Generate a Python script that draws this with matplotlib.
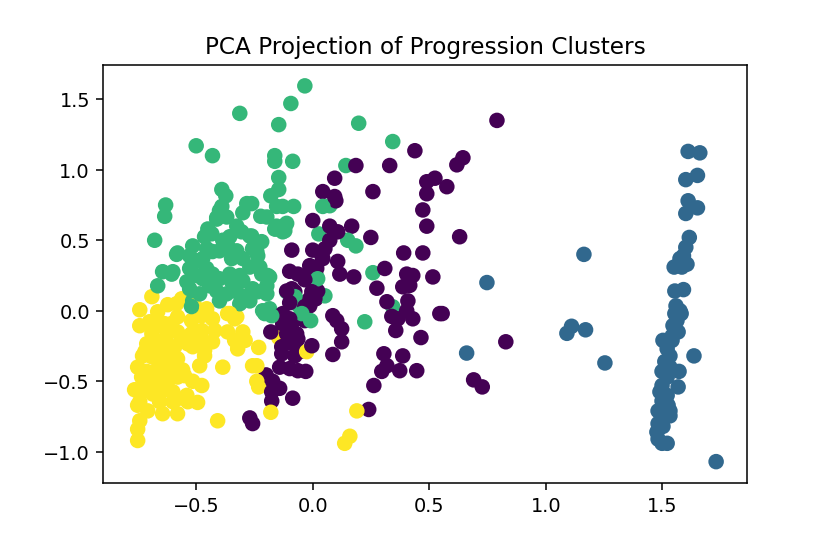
import numpy as np
import matplotlib
matplotlib.use("Agg")
import matplotlib.pyplot as plt

# Cluster 0 (purple)
cluster0 = [
    (0.63, 0.525), (0.555, -0.02), (0.828, -0.22), (0.69, -0.49), (0.727, -0.54),
    (0.79, 1.35), (0.438, 1.135), (0.33, 1.03), (0.185, 1.03), (0.644, 1.085), (0.618, 1.035),
    (0.094, 0.94), (0.524, 0.94), (0.489, 0.915), (0.575, 0.88), (0.043, 0.845), (0.258, 0.845),
    (0.094, 0.81), (0.099, 0.78), (0.489, 0.83), (0.472, 0.715), (0.489, 0.60), (0.0, 0.64),
    (0.073, 0.60), (0.107, 0.56), (0.167, 0.60), (0.073, 0.50), (0.249, 0.52),
    (-0.09, 0.43), (0.0, 0.43), (0.052, 0.44), (0.039, 0.39), (0.107, 0.35), (-0.013, 0.32),
    (0.39, 0.41), (0.472, 0.41), (0.309, 0.30), (-0.099, 0.28), (-0.064, 0.26), (0.116, 0.26),
    (0.176, 0.24), (0.403, 0.26), (0.429, 0.25), (0.515, 0.24),
    (-0.034, 0.22), (-0.009, 0.31), (0.017, 0.30), (0.043, 0.37), (0.275, 0.16), (0.386, 0.17),
    (0.416, 0.18), (-0.09, 0.156), (-0.004, 0.135), (0.021, 0.14), (-0.013, 0.085), (0.013, 0.085),
    (-0.099, 0.057), (-0.034, 0.03), (-0.013, 0.035), (0.318, 0.064), (0.408, 0.07), (0.403, 0.0),
    (0.545, -0.02), (-0.129, -0.02), (-0.099, -0.057), (-0.129, -0.092), (-0.09, -0.092),
    (-0.034, -0.07), (0.086, -0.035), (0.103, -0.07), (0.124, -0.128), (0.339, -0.04),
    (0.365, -0.057), (0.356, -0.14), (0.429, -0.057), (-0.18, -0.15), (-0.112, -0.163),
    (-0.069, -0.163), (-0.099, -0.2), (-0.064, -0.2), (0.464, -0.19), (0.124, -0.22),
    (-0.133, -0.255), (-0.086, -0.234), (-0.004, -0.248), (-0.133, -0.305), (-0.077, -0.32),
    (-0.056, -0.29), (0.086, -0.31), (0.305, -0.305), (0.386, -0.32), (-0.142, -0.40),
    (-0.099, -0.41), (-0.064, -0.425), (-0.03, -0.43), (0.318, -0.39), (0.296, -0.43),
    (0.373, -0.425), (0.446, -0.425), (-0.20, -0.455), (-0.172, -0.50), (-0.142, -0.55),
    (-0.176, -0.575), (-0.176, -0.64), (-0.086, -0.62), (0.262, -0.53), (0.24, -0.70),
    (-0.27, -0.76), (-0.258, -0.80),
    (-0.112, 0.14), (-0.077, 0.135), (-0.021, 0.035), (0.009, 0.085), (-0.142, -0.035),
    (-0.112, -0.057), (-0.043, -0.057), (0.0, 0.31),
]

# Cluster 1 (blue)
cluster1 = [
    (1.163, 0.40), (0.747, 0.20), (1.11, -0.11), (1.09, -0.16), (1.17, -0.135), (1.253, -0.37),
    (0.66, -0.30), (1.73, -1.07),
    (1.61, 1.13), (1.66, 1.12), (1.65, 0.96), (1.60, 0.93), (1.61, 0.78), (1.65, 0.73),
    (1.60, 0.69), (1.615, 0.52), (1.60, 0.45), (1.59, 0.39), (1.575, 0.37), (1.605, 0.33),
    (1.55, 0.31), (1.583, 0.31), (1.553, 0.14), (1.59, 0.15), (1.558, 0.035), (1.575, 0.0),
    (1.553, -0.02), (1.58, -0.02), (1.562, -0.07), (1.545, -0.105), (1.567, -0.15),
    (1.541, -0.18), (1.502, -0.21), (1.541, -0.21), (1.52, -0.27), (1.532, -0.32),
    (1.635, -0.32), (1.51, -0.36), (1.532, -0.40), (1.498, -0.43), (1.571, -0.43),
    (1.52, -0.47), (1.498, -0.53), (1.567, -0.54), (1.489, -0.575), (1.52, -0.60),
    (1.498, -0.64), (1.524, -0.67), (1.532, -0.71), (1.481, -0.71), (1.532, -0.745),
    (1.498, -0.77), (1.481, -0.80), (1.502, -0.82), (1.476, -0.86), (1.481, -0.91),
    (1.498, -0.94), (1.52, -0.94),
]

# Cluster 2 (green)
cluster2 = [
    (-0.034, 1.595), (-0.094, 1.47), (-0.313, 1.40), (-0.146, 1.32), (-0.50, 1.17), (-0.43, 1.10),
    (-0.163, 1.10), (-0.163, 1.06), (-0.086, 1.06), (-0.146, 0.945), (-0.146, 0.86), (-0.18, 0.815),
    (-0.39, 0.86), (-0.373, 0.815), (-0.39, 0.74), (-0.631, 0.75), (-0.635, 0.67), (-0.283, 0.76),
    (-0.30, 0.695), (-0.262, 0.76), (-0.155, 0.74), (-0.129, 0.74), (-0.082, 0.74), (-0.223, 0.67),
    (-0.197, 0.665), (-0.412, 0.66), (-0.369, 0.665), (-0.112, 0.62), (-0.155, 0.60), (-0.326, 0.60),
    (-0.45, 0.58),
    (0.197, 1.33), (0.343, 1.20), (0.142, 1.03), (-0.159, 0.58), (-0.116, 0.61), (-0.129, 0.56),
    (0.043, 0.74), (0.073, 0.745), (0.026, 0.545), (0.15, 0.50), (0.185, 0.46), (0.258, 0.27),
    (-0.27, 0.53), (-0.24, 0.42), (-0.219, 0.26), (-0.193, 0.25), (0.017, 0.24),
    (0.021, 0.227), (0.052, 0.106), (-0.112, 0.135), (-0.06, 0.035), (-0.047, -0.02),
    (-0.009, -0.07), (0.223, -0.078), (0.343, 0.028), (-0.283, 0.106), (-0.236, 0.135),
    (-0.197, 0.12), (-0.206, -0.02), (-0.176, -0.035),
    (-0.40, 0.71), (-0.412, 0.65), (-0.163, 0.58), (-0.12, 0.567), (-0.305, 0.56), (-0.262, 0.53),
    (-0.219, 0.49), (-0.356, 0.525), (-0.386, 0.50), (-0.433, 0.546), (-0.464, 0.525),
    (-0.584, 0.40), (-0.515, 0.46), (-0.528, 0.39), (-0.498, 0.355), (-0.455, 0.44), (-0.43, 0.42),
    (-0.40, 0.425), (-0.472, 0.37), (-0.365, 0.46), (-0.326, 0.425), (-0.348, 0.37), (-0.30, 0.37),
    (-0.258, 0.44), (-0.236, 0.39), (-0.27, 0.31), (-0.227, 0.31), (-0.60, 0.277), (-0.528, 0.30),
    (-0.498, 0.25), (-0.54, 0.206), (-0.455, 0.30), (-0.43, 0.26), (-0.472, 0.227), (-0.40, 0.227),
    (-0.356, 0.26), (-0.313, 0.25), (-0.348, 0.206), (-0.30, 0.213), (-0.185, 0.24), (-0.197, 0.177),
    (-0.528, 0.156), (-0.485, 0.12), (-0.442, 0.177), (-0.515, 0.07), (-0.412, 0.14), (-0.369, 0.12),
    (-0.326, 0.135), (-0.258, 0.156), (-0.313, 0.05), (-0.27, 0.07), (-0.40, 0.07), (-0.215, 0.0),
    (-0.185, 0.014),
    (-0.678, 0.50), (-0.58, 0.41), (-0.644, 0.277), (-0.605, 0.26), (-0.665, 0.177), (-0.52, 0.03),
    (-0.077, 0.10), (-0.056, 0.064),
]

# Cluster 3 (yellow)
cluster3 = [
    (-0.69, 0.10), (-0.742, 0.007), (-0.622, 0.043), (-0.562, 0.085), (-0.665, -0.007),
    (-0.742, -0.106), (-0.70, -0.078), (-0.635, -0.092), (-0.58, -0.043), (-0.52, -0.07),
    (-0.476, -0.035), (-0.43, -0.057), (-0.455, 0.014), (-0.506, 0.035), (-0.365, -0.02),
    (-0.326, -0.043), (-0.42, -0.14), (-0.365, -0.15), (-0.30, -0.15), (-0.335, -0.21),
    (-0.322, -0.27), (-0.43, -0.22), (-0.464, -0.28), (-0.464, -0.32), (-0.485, -0.39),
    (-0.386, -0.40), (-0.52, -0.163), (-0.536, -0.234), (-0.515, -0.255), (-0.58, -0.15),
    (-0.562, -0.20), (-0.592, -0.255), (-0.627, -0.177), (-0.648, -0.22), (-0.622, -0.27),
    (-0.69, -0.163), (-0.712, -0.234), (-0.687, -0.255), (-0.73, -0.32), (-0.69, -0.326),
    (-0.657, -0.326), (-0.622, -0.355), (-0.58, -0.34), (-0.751, -0.40), (-0.712, -0.43),
    (-0.67, -0.42), (-0.627, -0.43), (-0.584, -0.40), (-0.558, -0.42), (-0.734, -0.47),
    (-0.70, -0.50), (-0.657, -0.48), (-0.622, -0.50), (-0.58, -0.47), (-0.55, -0.46),
    (-0.764, -0.56), (-0.73, -0.567), (-0.678, -0.54), (-0.644, -0.567), (-0.60, -0.575),
    (-0.58, -0.624), (-0.54, -0.60), (-0.515, -0.50), (-0.476, -0.53), (-0.742, -0.645),
    (-0.708, -0.71), (-0.644, -0.73), (-0.58, -0.73), (-0.494, -0.65), (-0.536, -0.645),
    (-0.657, -0.645), (-0.742, -0.78), (-0.751, -0.84), (-0.751, -0.92), (-0.408, -0.78),
    (-0.60, -0.645), (-0.67, -0.11), (-0.605, -0.09), (-0.476, -0.14), (-0.476, -0.20),
    (-0.648, -0.40), (-0.605, -0.305), (-0.72, -0.29), (-0.67, -0.27), (-0.635, -0.47),
    (-0.665, -0.555), (-0.751, -0.67), (-0.687, -0.59),
    (-0.356, -0.02), (-0.335, -0.057), (-0.29, -0.21), (-0.146, -0.19), (-0.232, -0.26),
    (-0.24, -0.39), (-0.24, -0.50), (-0.232, -0.54), (-0.18, -0.72), (0.189, -0.71),
    (0.159, -0.89), (0.137, -0.94), (-0.026, -0.29), (-0.258, -0.39), (-0.584, 0.05),
]

title = "PCA Projection of Progression Clusters"

clusters = [cluster0, cluster1, cluster2, cluster3]
xs, ys, labels = [], [], []
for lab, pts in enumerate(clusters):
    arr = np.array(pts)
    xs.append(arr[:, 0])
    ys.append(arr[:, 1])
    labels.append(np.full(len(arr), lab))
x = np.concatenate(xs)
y = np.concatenate(ys)
lab = np.concatenate(labels)

# interleave drawing order deterministically
order = np.argsort((np.arange(len(x)) * 7919) % len(x))
x, y, lab = x[order], y[order], lab[order]

fig = plt.figure(figsize=(6, 4), dpi=138.4)
ax = fig.add_axes([0.1245, 0.1258, 0.7755, 0.7552])
ax.scatter(x, y, c=lab, cmap="viridis", s=50, vmin=0, vmax=3)
ax.set_xlim(-0.898, 1.864)
ax.set_ylim(-1.224, 1.741)
ax.set_xticks([-0.5, 0.0, 0.5, 1.0, 1.5])
ax.set_yticks([-1.0, -0.5, 0.0, 0.5, 1.0, 1.5])
ax.set_title(title)
fig.savefig("out.png", dpi=138.4)
